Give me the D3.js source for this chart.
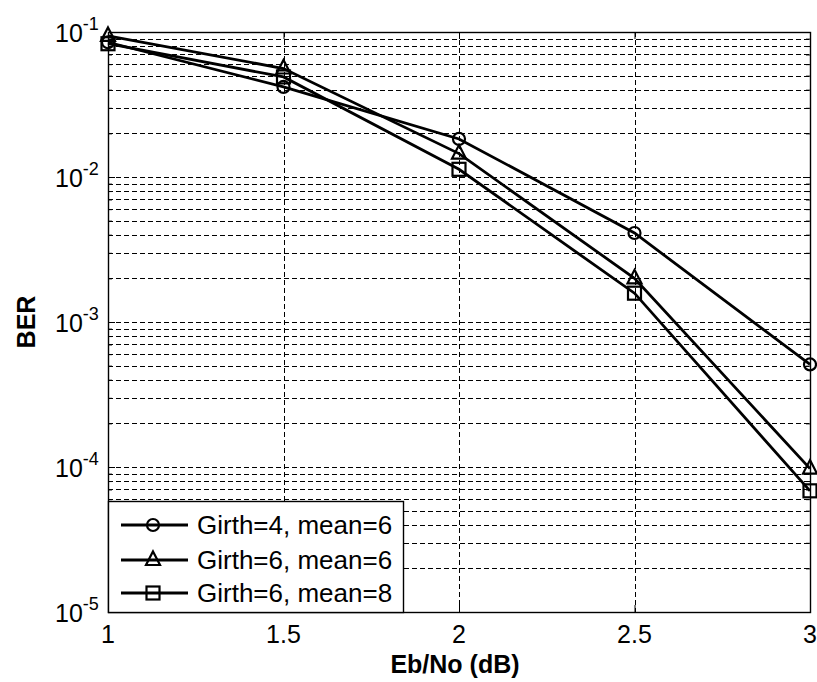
<!DOCTYPE html>
<html>
<head>
<meta charset="utf-8">
<script src="https://cdn.jsdelivr.net/npm/d3@7"></script>
<style>
  body { margin: 0; background: #fff; }
  text { font-family: "Liberation Sans", Arial, sans-serif; fill: #000; }
</style>
</head>
<body>
<svg id="chart" width="817" height="682"></svg>
<script>
// Eb/No in dB and measured bit error rates for each code construction
const ebno = [1, 1.5, 2, 2.5, 3];
const berGirth4Mean6 = [0.085, 0.0418, 0.0183, 0.00411, 0.00051];
const berGirth6Mean6 = [0.094, 0.056, 0.0145, 0.00200, 0.0000975];
const berGirth6Mean8 = [0.083, 0.049, 0.0113, 0.00158, 0.0000685];

const seriesNames = ["Girth=4, mean=6", "Girth=6, mean=6", "Girth=6, mean=8"];
const seriesMarkers = ["circle", "triangle", "square"];

const xTickValues = [1, 1.5, 2, 2.5, 3];
const xTickLabels = ["1", "1.5", "2", "2.5", "3"];
const yDecades = [1e-5, 1e-4, 1e-3, 1e-2, 1e-1];
const yExponents = ["-5", "-4", "-3", "-2", "-1"];

const series = [berGirth4Mean6, berGirth6Mean6, berGirth6Mean8].map((v, i) => ({
  name: seriesNames[i],
  marker: seriesMarkers[i],
  points: ebno.map((e, j) => ({ x: e, y: v[j] }))
}));

const svg = d3.select("#chart");
const plot = { left: 108, right: 810, top: 32, bottom: 612 };

const x = d3.scaleLinear().domain([1, 3]).range([plot.left, plot.right]);
const y = d3.scaleLog().domain([1e-5, 1e-1]).range([plot.bottom, plot.top]);

// minor values inside each decade
const minorY = [];
yDecades.slice(0, -1).forEach(d => { for (let m = 2; m <= 9; m++) minorY.push(m * d); });

const grid = svg.append("g").attr("stroke", "#000").attr("stroke-width", 1)
  .attr("stroke-dasharray", "5,3").attr("shape-rendering", "crispEdges");

// horizontal grid: decades and minor steps
grid.selectAll("line.h").data(yDecades.concat(minorY).filter(v => v > 1e-5 && v < 1e-1))
  .join("line").attr("class", "h")
  .attr("x1", plot.left).attr("x2", plot.right)
  .attr("y1", d => Math.round(y(d)) + 0.5).attr("y2", d => Math.round(y(d)) + 0.5);

// vertical grid at interior x ticks
grid.selectAll("line.v").data(xTickValues.filter(v => v > 1 && v < 3))
  .join("line").attr("class", "v")
  .attr("y1", plot.top).attr("y2", plot.bottom)
  .attr("x1", d => Math.round(x(d)) + 0.5).attr("x2", d => Math.round(x(d)) + 0.5);

// axes with inward ticks on all four sides
const tickLen = 7;
const axisG = svg.append("g");

const xAxisBottom = d3.axisBottom(x).tickValues(xTickValues).tickSize(-tickLen).tickFormat("");
const xAxisTop = d3.axisTop(x).tickValues(xTickValues).tickSize(-tickLen).tickFormat("");
const yAxisLeft = d3.axisLeft(y).tickValues(yDecades).tickSize(-tickLen).tickFormat("");
const yAxisRight = d3.axisRight(y).tickValues(yDecades).tickSize(-tickLen).tickFormat("");
const yMinorLeft = d3.axisLeft(y).tickValues(minorY).tickSize(-4).tickFormat("");
const yMinorRight = d3.axisRight(y).tickValues(minorY).tickSize(-4).tickFormat("");

[[xAxisBottom, `translate(0,${plot.bottom})`],
 [xAxisTop, `translate(0,${plot.top})`],
 [yAxisLeft, `translate(${plot.left},0)`],
 [yAxisRight, `translate(${plot.right},0)`],
 [yMinorLeft, `translate(${plot.left},0)`],
 [yMinorRight, `translate(${plot.right},0)`]].forEach(([ax, tr]) => {
  const g = axisG.append("g").attr("transform", tr).call(ax);
  g.select(".domain").remove();
  g.selectAll("line").attr("stroke", "#000").attr("stroke-width", 1);
});

// plot frame
svg.append("rect")
  .attr("x", plot.left + 0.5).attr("y", plot.top + 0.5)
  .attr("width", plot.right - plot.left).attr("height", plot.bottom - plot.top)
  .attr("fill", "none").attr("stroke", "#000").attr("stroke-width", 1.4);

// x tick labels
svg.append("g").selectAll("text").data(xTickValues).join("text")
  .attr("x", d => x(d)).attr("y", plot.bottom + 31)
  .attr("text-anchor", "middle").attr("font-size", 25)
  .text((d, i) => xTickLabels[i]);

// y tick labels as 10 with a raised exponent
const yLab = svg.append("g").selectAll("text").data(yDecades).join("text")
  .attr("y", d => y(d) + 9.5)
  .attr("font-size", 25);
yLab.each(function (d, i) {
  const t = d3.select(this);
  t.append("tspan").attr("x", 55).text("10");
  t.append("tspan").attr("dy", -12).attr("font-size", 18).text(yExponents[i]);
});

// axis titles
svg.append("text").attr("x", x(2) - 4).attr("y", plot.bottom + 61)
  .attr("text-anchor", "middle").attr("font-size", 25).attr("font-weight", "bold")
  .text("Eb/No (dB)");
svg.append("text").attr("transform", `translate(35,${(plot.top + plot.bottom) / 2}) rotate(-90)`)
  .attr("text-anchor", "middle").attr("font-size", 25).attr("font-weight", "bold")
  .text("BER");

// marker drawing
function drawMarker(sel, type) {
  if (type === "circle") {
    sel.append("circle").attr("r", 6);
  } else if (type === "triangle") {
    sel.append("path").attr("d", "M0,-8.5L7,5L-7,5Z");
  } else {
    sel.append("rect").attr("x", -6.5).attr("y", -6.5).attr("width", 13).attr("height", 13);
  }
}

const line = d3.line().x(d => x(d.x)).y(d => y(d.y));
const seriesG = svg.append("g").selectAll("g").data(series).join("g");
seriesG.append("path")
  .attr("d", d => line(d.points))
  .attr("fill", "none").attr("stroke", "#000").attr("stroke-width", 2.8);
seriesG.each(function (s) {
  d3.select(this).selectAll("g.m").data(s.points).join("g").attr("class", "m")
    .attr("transform", p => `translate(${x(p.x)},${y(p.y)})`)
    .attr("fill", "none").attr("stroke", "#000").attr("stroke-width", 2.2)
    .each(function () { drawMarker(d3.select(this), s.marker); });
});

// legend in the lower-left corner
const legend = svg.append("g");
legend.append("rect")
  .attr("x", plot.left + 0.5).attr("y", 501.5).attr("width", 295).attr("height", plot.bottom - 501)
  .attr("fill", "#fff").attr("stroke", "#000").attr("stroke-width", 1.4);
const rowY = [525, 560, 593];
const items = legend.selectAll("g.item").data(series).join("g").attr("class", "item")
  .attr("transform", (d, i) => `translate(0,${rowY[i]})`);
items.append("line").attr("x1", 121).attr("x2", 188).attr("y1", 0).attr("y2", 0)
  .attr("stroke", "#000").attr("stroke-width", 2.8);
items.append("g").attr("transform", "translate(153,0)")
  .attr("fill", "none").attr("stroke", "#000").attr("stroke-width", 2.2)
  .each(function (d) { drawMarker(d3.select(this), d.marker); });
items.append("text").attr("x", 197).attr("y", 9).attr("font-size", 26)
  .text(d => d.name);
</script>
</body>
</html>
